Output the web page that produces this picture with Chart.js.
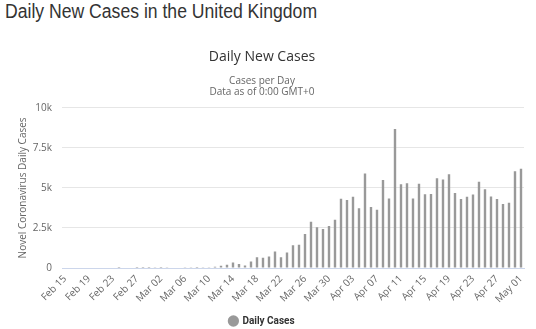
<!DOCTYPE html>
<html>
<head>
<meta charset="utf-8">
<title>Daily New Cases in the United Kingdom</title>
<script src="https://cdn.jsdelivr.net/npm/chart.js@4"></script>
<style>
  html, body { margin: 0; padding: 0; background: #fff; }
  #wrap { position: relative; width: 536px; height: 329px; overflow: hidden; }
  h1 {
    position: absolute; left: 5px; top: 0; margin: 0; white-space: nowrap;
    font: normal 20px/22px "Liberation Sans", Arial, sans-serif; color: #333;
    transform: scaleX(0.88); transform-origin: 0 0;
  }
  canvas { position: absolute; left: 0; top: 0; }
</style>
</head>
<body>
<div id="wrap">
  <h1>Daily New Cases in the United Kingdom</h1>
  <canvas id="chart" width="536" height="329"></canvas>
</div>
<script>
// Data: 2020-02-15 .. 2020-05-01
const categories = [
  'Feb 15', 'Feb 16', 'Feb 17', 'Feb 18', 'Feb 19', 'Feb 20', 'Feb 21', 'Feb 22',
  'Feb 23', 'Feb 24', 'Feb 25', 'Feb 26', 'Feb 27', 'Feb 28', 'Feb 29',
  'Mar 01', 'Mar 02', 'Mar 03', 'Mar 04', 'Mar 05', 'Mar 06', 'Mar 07', 'Mar 08',
  'Mar 09', 'Mar 10', 'Mar 11', 'Mar 12', 'Mar 13', 'Mar 14', 'Mar 15', 'Mar 16',
  'Mar 17', 'Mar 18', 'Mar 19', 'Mar 20', 'Mar 21', 'Mar 22', 'Mar 23', 'Mar 24',
  'Mar 25', 'Mar 26', 'Mar 27', 'Mar 28', 'Mar 29', 'Mar 30', 'Mar 31',
  'Apr 01', 'Apr 02', 'Apr 03', 'Apr 04', 'Apr 05', 'Apr 06', 'Apr 07', 'Apr 08',
  'Apr 09', 'Apr 10', 'Apr 11', 'Apr 12', 'Apr 13', 'Apr 14', 'Apr 15', 'Apr 16',
  'Apr 17', 'Apr 18', 'Apr 19', 'Apr 20', 'Apr 21', 'Apr 22', 'Apr 23', 'Apr 24',
  'Apr 25', 'Apr 26', 'Apr 27', 'Apr 28', 'Apr 29', 'Apr 30',
  'May 01'
];

const dailyCases = [
  // Feb 15 - Feb 29
  0, 0, 0, 0, 0, 0, 0, 0, 0, 4, 0, 0, 2, 5, 3,
  // Mar
  13, 4, 11, 34, 30, 48, 43, 67, 48, 52, 83, 134, 208, 342, 251, 152,
  407, 676, 643, 714, 1035, 665, 967, 1427, 1452, 2129, 2885, 2546, 2433, 2619, 3009,
  // Apr
  4324, 4244, 4450, 3735, 5903, 3802, 3634, 5491, 4344, 8681, 5233, 5288, 4342, 5252, 4603,
  4617, 5599, 5525, 5850, 4676, 4301, 4451, 4583, 5386, 4913, 4463, 4309, 3996, 4076, 6032,
  // May
  6201
];

const yTicks = [0, 2500, 5000, 7500, 10000];
const yTickLabels = ['0', '2.5k', '5k', '7.5k', '10k'];

const FONT = '"Open Sans", "Liberation Sans", Arial, sans-serif';

new Chart(document.getElementById('chart'), {
  type: 'bar',
  data: {
    labels: categories,
    datasets: [{
      label: 'Daily Cases',
      data: dailyCases,
      backgroundColor: '#999999',
      borderWidth: 0,
      barPercentage: 0.5,
      categoryPercentage: 0.8
    }]
  },
  options: {
    responsive: false,
    animation: false,
    layout: { padding: { left: 0, right: 12, top: 0, bottom: -7 } },
    plugins: {
      title: {
        display: true,
        text: 'Daily New Cases',
        color: '#333',
        font: { family: FONT, size: 14, weight: 'normal' },
        padding: { top: 49, bottom: 9 }
      },
      subtitle: {
        display: true,
        text: ['Cases per Day', 'Data as of 0:00 GMT+0'],
        color: '#666',
        font: { family: FONT, size: 10, lineHeight: 1.1 },
        padding: { top: 1, bottom: 10 }
      },
      legend: {
        position: 'bottom',
        labels: {
          usePointStyle: true,
          pointStyle: 'circle',
          boxWidth: 8,
          boxHeight: 8,
          padding: 1,
          color: '#333',
          font: { family: 'Roboto, ' + FONT, size: 10, weight: 'bold' }
        }
      },
      tooltip: { enabled: false }
    },
    scales: {
      x: {
        grid: { display: false, drawTicks: false },
        border: { color: '#ccd6eb' },
        ticks: {
          autoSkip: false,
          maxRotation: 45,
          minRotation: 45,
          padding: 5,
          color: '#666',
          font: { family: FONT, size: 10 },
          callback: (v, i) => (i % 4 === 0 ? categories[i] : '')
        },
        afterFit: (scale) => { scale.height = 47; }
      },
      y: {
        min: 0,
        max: 10000,
        grid: { color: '#e6e6e6', drawTicks: false },
        border: { display: false },
        ticks: {
          stepSize: 2500,
          padding: 10,
          color: '#666',
          font: { family: FONT, size: 10 },
          callback: (v) => yTickLabels[yTicks.indexOf(v)]
        },
        title: {
          display: true,
          text: 'Novel Coronavirus Daily Cases',
          color: '#666',
          font: { family: FONT, size: 10 },
          padding: { top: 17, bottom: 0 }
        },
        afterFit: (scale) => { scale.width = 62; }
      }
    }
  }
});
</script>
</body>
</html>
